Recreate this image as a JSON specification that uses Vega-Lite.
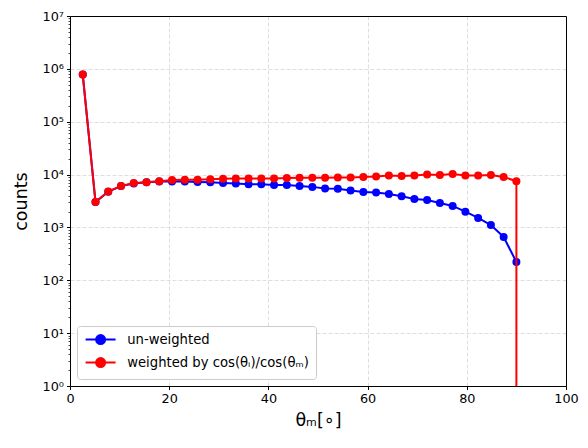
{
  "$schema": "https://vega.github.io/schema/vega-lite/v6.json",
  "autosize": {"type": "none"},
  "width": 496,
  "height": 370,
  "padding": {"left": 70, "top": 16, "right": 22, "bottom": 62},
  "background": "white",
  "config": {
    "font": "DejaVu Sans",
    "view": {"stroke": null},
    "axis": {
      "domainColor": "black",
      "domainWidth": 1,
      "tickColor": "black",
      "labelColor": "black",
      "titleColor": "black",
      "labelFont": "DejaVu Sans",
      "titleFont": "DejaVu Sans",
      "labelFontSize": 12.8,
      "titleFontSize": 17.5,
      "titleFontWeight": "normal",
      "gridColor": "#d6d6d6",
      "gridDash": [4, 2],
      "gridWidth": 0.8
    }
  },
  "data": {
    "values": [
      {"series": "un-weighted", "k": 1, "theta": 2.571, "counts": 780000},
      {"series": "un-weighted", "k": 2, "theta": 5.143, "counts": 3030},
      {"series": "un-weighted", "k": 3, "theta": 7.714, "counts": 4750},
      {"series": "un-weighted", "k": 4, "theta": 10.286, "counts": 6050},
      {"series": "un-weighted", "k": 5, "theta": 12.857, "counts": 6800},
      {"series": "un-weighted", "k": 6, "theta": 15.429, "counts": 7150},
      {"series": "un-weighted", "k": 7, "theta": 18.0, "counts": 7370},
      {"series": "un-weighted", "k": 8, "theta": 20.571, "counts": 7370},
      {"series": "un-weighted", "k": 9, "theta": 23.143, "counts": 7370},
      {"series": "un-weighted", "k": 10, "theta": 25.714, "counts": 7260},
      {"series": "un-weighted", "k": 11, "theta": 28.286, "counts": 7160},
      {"series": "un-weighted", "k": 12, "theta": 30.857, "counts": 6950},
      {"series": "un-weighted", "k": 13, "theta": 33.429, "counts": 6760},
      {"series": "un-weighted", "k": 14, "theta": 36.0, "counts": 6560},
      {"series": "un-weighted", "k": 15, "theta": 38.571, "counts": 6560},
      {"series": "un-weighted", "k": 16, "theta": 41.143, "counts": 6370},
      {"series": "un-weighted", "k": 17, "theta": 43.714, "counts": 6370},
      {"series": "un-weighted", "k": 18, "theta": 46.286, "counts": 6100},
      {"series": "un-weighted", "k": 19, "theta": 48.857, "counts": 5850},
      {"series": "un-weighted", "k": 20, "theta": 51.429, "counts": 5450},
      {"series": "un-weighted", "k": 21, "theta": 54.0, "counts": 5400},
      {"series": "un-weighted", "k": 22, "theta": 56.571, "counts": 5000},
      {"series": "un-weighted", "k": 23, "theta": 59.143, "counts": 4700},
      {"series": "un-weighted", "k": 24, "theta": 61.714, "counts": 4560},
      {"series": "un-weighted", "k": 25, "theta": 64.286, "counts": 4300},
      {"series": "un-weighted", "k": 26, "theta": 66.857, "counts": 3890},
      {"series": "un-weighted", "k": 27, "theta": 69.429, "counts": 3460},
      {"series": "un-weighted", "k": 28, "theta": 72.0, "counts": 3310},
      {"series": "un-weighted", "k": 29, "theta": 74.571, "counts": 2900},
      {"series": "un-weighted", "k": 30, "theta": 77.143, "counts": 2550},
      {"series": "un-weighted", "k": 31, "theta": 79.714, "counts": 1990},
      {"series": "un-weighted", "k": 32, "theta": 82.286, "counts": 1510},
      {"series": "un-weighted", "k": 33, "theta": 84.857, "counts": 1110},
      {"series": "un-weighted", "k": 34, "theta": 87.429, "counts": 660},
      {"series": "un-weighted", "k": 35, "theta": 90.0, "counts": 222},
      {"series": "weighted", "k": 1, "theta": 2.571, "counts": 780000},
      {"series": "weighted", "k": 2, "theta": 5.143, "counts": 3030},
      {"series": "weighted", "k": 3, "theta": 7.714, "counts": 4770},
      {"series": "weighted", "k": 4, "theta": 10.286, "counts": 6100},
      {"series": "weighted", "k": 5, "theta": 12.857, "counts": 6950},
      {"series": "weighted", "k": 6, "theta": 15.429, "counts": 7160},
      {"series": "weighted", "k": 7, "theta": 18.0, "counts": 7480},
      {"series": "weighted", "k": 8, "theta": 20.571, "counts": 7900},
      {"series": "weighted", "k": 9, "theta": 23.143, "counts": 7950},
      {"series": "weighted", "k": 10, "theta": 25.714, "counts": 7950},
      {"series": "weighted", "k": 11, "theta": 28.286, "counts": 8150},
      {"series": "weighted", "k": 12, "theta": 30.857, "counts": 8350},
      {"series": "weighted", "k": 13, "theta": 33.429, "counts": 8400},
      {"series": "weighted", "k": 14, "theta": 36.0, "counts": 8400},
      {"series": "weighted", "k": 15, "theta": 38.571, "counts": 8400},
      {"series": "weighted", "k": 16, "theta": 41.143, "counts": 8450},
      {"series": "weighted", "k": 17, "theta": 43.714, "counts": 8600},
      {"series": "weighted", "k": 18, "theta": 46.286, "counts": 8700},
      {"series": "weighted", "k": 19, "theta": 48.857, "counts": 8750},
      {"series": "weighted", "k": 20, "theta": 51.429, "counts": 8750},
      {"series": "weighted", "k": 21, "theta": 54.0, "counts": 8850},
      {"series": "weighted", "k": 22, "theta": 56.571, "counts": 8800},
      {"series": "weighted", "k": 23, "theta": 59.143, "counts": 9030},
      {"series": "weighted", "k": 24, "theta": 61.714, "counts": 9165},
      {"series": "weighted", "k": 25, "theta": 64.286, "counts": 9570},
      {"series": "weighted", "k": 26, "theta": 66.857, "counts": 9435},
      {"series": "weighted", "k": 27, "theta": 69.429, "counts": 9570},
      {"series": "weighted", "k": 28, "theta": 72.0, "counts": 10000},
      {"series": "weighted", "k": 29, "theta": 74.571, "counts": 9860},
      {"series": "weighted", "k": 30, "theta": 77.143, "counts": 10300},
      {"series": "weighted", "k": 31, "theta": 79.714, "counts": 9570},
      {"series": "weighted", "k": 32, "theta": 82.286, "counts": 9570},
      {"series": "weighted", "k": 33, "theta": 84.857, "counts": 9860},
      {"series": "weighted", "k": 34, "theta": 87.429, "counts": 9030},
      {"series": "weighted", "k": 35, "theta": 90.0, "counts": 7480},
      {"series": "weighted", "k": 36, "theta": 90.0, "counts": 0.001}
    ]
  },
  "layer": [
    {
      "encoding": {
        "x": {
          "field": "theta",
          "type": "quantitative",
          "scale": {"domain": [0, 100], "nice": false, "zero": false},
          "axis": {
            "title": "θₘ[∘]",
            "values": [0, 20, 40, 60, 80, 100],
            "format": "d",
            "tickSize": 3.5,
            "labelPadding": 3,
            "titlePadding": 6,
            "labelFlush": false,
            "gridOpacity": {"condition": {"test": "datum.value > 0 && datum.value < 100", "value": 1}, "value": 0}
          }
        },
        "y": {
          "field": "counts",
          "type": "quantitative",
          "scale": {"type": "log", "domain": [1, 10000000], "nice": false},
          "axis": {
            "title": "counts",
            "titlePadding": 12,
            "values": [1, 2, 3, 4, 5, 6, 7, 8, 9, 10, 20, 30, 40, 50, 60, 70, 80, 90, 100, 200, 300, 400, 500, 600, 700, 800, 900, 1000, 2000, 3000, 4000, 5000, 6000, 7000, 8000, 9000, 10000, 20000, 30000, 40000, 50000, 60000, 70000, 80000, 90000, 100000, 200000, 300000, 400000, 500000, 600000, 700000, 800000, 900000, 1000000, 2000000, 3000000, 4000000, 5000000, 6000000, 7000000, 8000000, 9000000, 10000000],
            "labelExpr": "abs(log(datum.value)/LN10 - round(log(datum.value)/LN10)) < 0.000001 ? '10' + ['⁰','¹','²','³','⁴','⁵','⁶','⁷'][round(log(datum.value)/LN10)] : ''",
            "tickSize": {"condition": {"test": "abs(log(datum.value)/LN10 - round(log(datum.value)/LN10)) < 0.000001", "value": 3.5}, "value": 2},
            "gridOpacity": {"condition": {"test": "abs(log(datum.value)/LN10 - round(log(datum.value)/LN10)) < 0.000001 && datum.value > 1 && datum.value < 10000000", "value": 1}, "value": 0},
            "tickWidth": {"condition": {"test": "abs(log(datum.value)/LN10 - round(log(datum.value)/LN10)) < 0.000001", "value": 1}, "value": 0.7},
            "labelPadding": 3,
            "labelFlush": false,
            "labelOverlap": false
          }
        },
        "color": {
          "field": "series",
          "type": "nominal",
          "scale": {"domain": ["un-weighted", "weighted"], "range": ["#0000ff", "#ff0000"]},
          "legend": {
            "title": null,
            "orient": "bottom-left",
            "offset": 7,
            "labelExpr": "datum.value == 'weighted' ? 'weighted by cos(θᵢ)/cos(θₘ)' : datum.value",
            "labelFont": "DejaVu Sans",
            "labelFontSize": 13.2,
            "labelColor": "black",
            "labelLimit": 400,
            "symbolType": "M-3,0L3,0M-0.9,0A0.9,0.9,0,1,1,0.9,0A0.9,0.9,0,1,1,-0.9,0Z",
            "symbolSize": 100,
            "symbolStrokeWidth": 2,
            "symbolOffset": 10,
            "labelOffset": 20,
            "rowPadding": 5,
            "padding": 7,
            "strokeColor": "#cccccc",
            "fillColor": "white",
            "cornerRadius": 3,
            "encode": {
              "symbols": {
                "update": {
                  "fill": {"scale": "color", "field": "value"},
                  "stroke": {"scale": "color", "field": "value"},
                  "opacity": {"value": 1}
                }
              }
            }
          }
        }
      },
      "layer": [
        {
          "transform": [{"filter": "datum.series == 'un-weighted'"}],
          "mark": {"type": "line", "strokeWidth": 2, "clip": true},
          "encoding": {"order": {"field": "k", "type": "quantitative"}}
        },
        {
          "transform": [{"filter": "datum.series == 'un-weighted' && datum.counts >= 1"}],
          "mark": {"type": "point", "filled": true, "opacity": 1, "size": 64, "shape": "circle"}
        },
        {
          "transform": [{"filter": "datum.series == 'weighted'"}],
          "mark": {"type": "line", "strokeWidth": 2, "clip": true},
          "encoding": {"order": {"field": "k", "type": "quantitative"}}
        },
        {
          "transform": [{"filter": "datum.series == 'weighted' && datum.counts >= 1"}],
          "mark": {"type": "point", "filled": true, "opacity": 1, "size": 64, "shape": "circle"}
        }
      ]
    },
    {
      "transform": [{"filter": "datum.counts >= 1"}],
      "mark": {"type": "point", "opacity": 0},
      "encoding": {
        "x": {
          "field": "theta",
          "type": "quantitative",
          "scale": {"domain": [0, 100], "nice": false, "zero": false},
          "axis": {"orient": "top", "labels": false, "ticks": false, "grid": false, "title": null, "domainColor": "black"}
        },
        "y": {
          "field": "counts",
          "type": "quantitative",
          "scale": {"type": "log", "domain": [1, 10000000], "nice": false},
          "axis": {"orient": "right", "labels": false, "ticks": false, "grid": false, "title": null, "domainColor": "black"}
        }
      }
    }
  ],
  "resolve": {"axis": {"x": "independent", "y": "independent"}}
}
